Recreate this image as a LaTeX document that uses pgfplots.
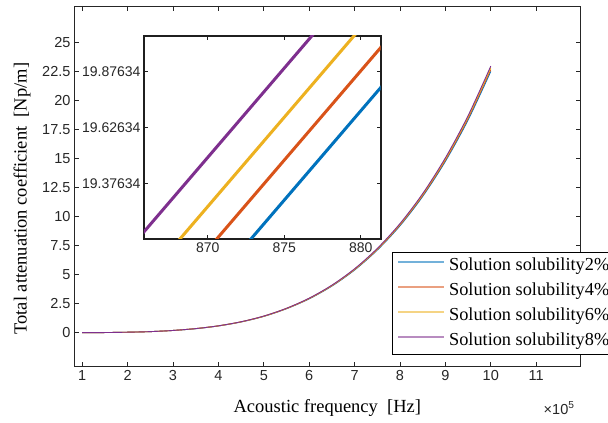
\documentclass[border=0pt]{standalone}
\usepackage{pgfplots}
\pgfplotsset{compat=1.18}
\usepackage{fontspec}
\setmainfont{Liberation Serif}
\newfontfamily\arialfont{Liberation Sans}
\definecolor{mblue}{rgb}{0,0.447,0.741}
\definecolor{morange}{rgb}{0.85,0.325,0.098}
\definecolor{myellow}{rgb}{0.929,0.694,0.125}
\definecolor{mpurple}{rgb}{0.494,0.184,0.556}
\definecolor{axgray}{rgb}{0.15,0.15,0.15}
\begin{document}
\begin{tikzpicture}
\begin{axis}[
  at={(0pt,0pt)}, anchor=south west,
  scale only axis, width=506.7pt, height=360.7pt,
  clip mode=individual,
  xmin=0.82, xmax=11.98, ymin=-2.93, ymax=28.12,
  xtick={1,2,3,4,5,6,7,8,9,10,11},
  xticklabels={1,2,3,4,5,6,7,8,9,10,11},
  ytick={0,2.5,5,7.5,10,12.5,15,17.5,20,22.5,25},
  yticklabels={0,2.5,5,7.5,10,12.5,15,17.5,20,22.5,25},
  tick align=inside, major tick length=5pt,
  axis line style={axgray, line width=0.8pt},
  tick style={axgray, line width=0.8pt},
  ticklabel style={font=\arialfont\fontsize{14.5}{14.5}\selectfont, text=axgray},
  /pgf/number format/assume math mode=true,
  xlabel={Acoustic frequency\ \ [Hz]},
  ylabel={Total attenuation coefficient\ \ [Np/m]},
  label style={font=\fontsize{18.5}{18.5}\selectfont, text=black},
  xlabel style={at={(rel axis cs:0.5,-0.1145)}, anchor=center},
  ylabel style={at={(rel axis cs:-0.1026,0.466)}, anchor=center},
  legend style={at={(rel axis cs:0.6276,0.318)}, anchor=north west,
    draw=black, line width=1pt, fill=white,
    font=\fontsize{18.3}{18.3}\selectfont,
    inner xsep=5pt, inner ysep=5pt, row sep=8pt,
    nodes={inner sep=0pt, text height=13pt, text depth=4pt},
    /tikz/every odd column/.append style={column sep=4pt}},
  legend cell align=left,
  legend image code/.code={\draw[#1, line width=1.6pt, opacity=0.55] (0pt,4pt) -- (46pt,4pt);},
]
\addplot[mblue, line width=0.9pt, smooth] coordinates {
(1,0) (1.5,0.01) (2,0.04) (2.5,0.09) (3,0.19) (3.5,0.34) (4,0.58) (4.5,0.92) (5,1.40) (5.5,2.06) (6,2.91) (6.5,4.01) (7,5.39) (7.5,7.11) (8,9.20) (8.5,11.73) (9,14.75) (9.5,18.31) (10,22.49)};
\addlegendentry{Solution solubility2\%}
\addplot[morange, line width=0.9pt, smooth] coordinates {
(1,0) (1.5,0.01) (2,0.04) (2.5,0.09) (3,0.19) (3.5,0.35) (4,0.58) (4.5,0.93) (5,1.41) (5.5,2.07) (6,2.93) (6.5,4.04) (7,5.43) (7.5,7.16) (8,9.27) (8.5,11.81) (9,14.85) (9.5,18.44) (10,22.65)};
\addlegendentry{Solution solubility4\%}
\addplot[myellow, line width=0.9pt, smooth] coordinates {
(1,0) (1.5,0.01) (2,0.04) (2.5,0.09) (3,0.19) (3.5,0.35) (4,0.59) (4.5,0.93) (5,1.42) (5.5,2.09) (6,2.95) (6.5,4.06) (7,5.46) (7.5,7.20) (8,9.33) (8.5,11.89) (9,14.95) (9.5,18.56) (10,22.80)};
\addlegendentry{Solution solubility6\%}
\addplot[mpurple, line width=0.9pt, smooth] coordinates {
(1,0) (1.5,0.01) (2,0.04) (2.5,0.09) (3,0.19) (3.5,0.35) (4,0.59) (4.5,0.94) (5,1.43) (5.5,2.10) (6,2.97) (6.5,4.09) (7,5.50) (7.5,7.25) (8,9.39) (8.5,11.97) (9,15.05) (9.5,18.68) (10,22.95)};
\addlegendentry{Solution solubility8\%}
\node[anchor=east, font=\arialfont\fontsize{14.5}{14.5}\selectfont, text=axgray] at (rel axis cs:0.9947,-0.1145) {×10\textsuperscript{5}};
\end{axis}
\begin{axis}[
  at={(70pt,127.7pt)}, anchor=south west,
  scale only axis, width=236.7pt, height=203pt,
  xmin=865.84, xmax=881.3, ymin=19.127, ymax=20.036,
  xtick={870,875,880}, xticklabels={870,875,880},
  ytick={19.37634,19.62634,19.87634},
  yticklabels={19.37634,19.62634,19.87634},
  axis background/.style={fill=white},
  tick align=inside, major tick length=4pt,
  axis line style={black!88, line width=2pt},
  tick style={black!88, line width=1pt},
  ticklabel style={font=\arialfont\fontsize{14}{14}\selectfont, text=axgray},
  /pgf/number format/assume math mode=true,
]
\addplot[mblue, line width=3pt] coordinates {(864,18.421) (884,20.021)};
\addplot[morange, line width=3pt] coordinates {(864,18.600) (884,20.200)};
\addplot[myellow, line width=3pt] coordinates {(864,18.792) (884,20.392)};
\addplot[mpurple, line width=3pt] coordinates {(864,19.012) (884,20.612)};
\end{axis}
\pgfresetboundingbox
\path (-74pt,-56.3pt) rectangle (534pt,366.7pt);
\end{tikzpicture}
\end{document}
